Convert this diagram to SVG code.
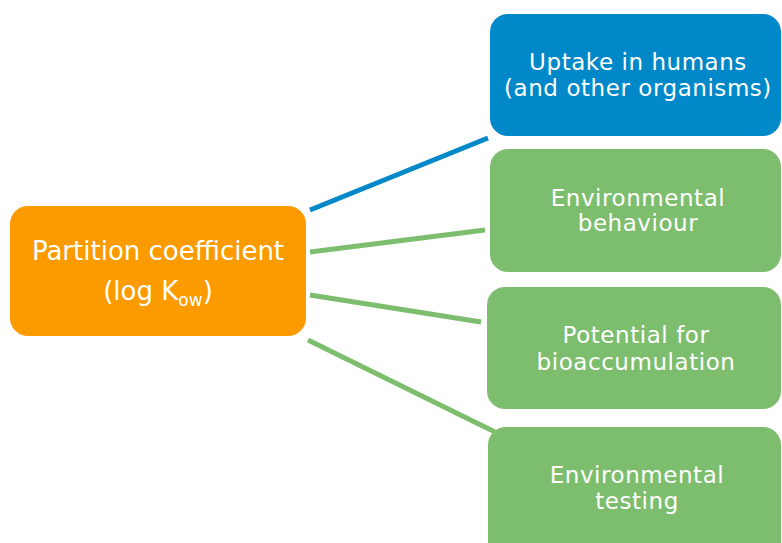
<svg xmlns="http://www.w3.org/2000/svg" width="782" height="543" viewBox="0 0 782 543">
<style>
.t{font-family:"DejaVu Sans","Verdana",sans-serif;fill:#ffffff;text-anchor:middle}
.s{font-size:23px;letter-spacing:0.55px}
.c{stroke-width:5;fill:none}
</style>
<rect width="782" height="543" fill="#ffffff"/>
<g id="connectors">
<line class="c" x1="310" y1="210" x2="488" y2="138" stroke="#0088c8"/>
<line class="c" x1="310" y1="252" x2="485" y2="230" stroke="#7dbe6e"/>
<line class="c" x1="310" y1="295" x2="481" y2="322" stroke="#7dbe6e"/>
<line class="c" x1="308" y1="340" x2="495" y2="432" stroke="#7dbe6e"/>
</g>
<g id="partition">
<rect x="10" y="206" width="296" height="130" rx="18" fill="#fb9b00"/>
<text class="t" x="158" y="260" font-size="26">Partition coefficient</text>
<text class="t" x="158" y="300" font-size="26">(log K<tspan font-size="17" dy="6">ow</tspan><tspan dy="-6">)</tspan></text>
</g>
<g id="uptake">
<rect x="490" y="14" width="291" height="122" rx="18" fill="#0088c8"/>
<text class="t s" x="638" y="70">Uptake in humans</text>
<text class="t s" x="638" y="96">(and other organisms)</text>
</g>
<g id="behaviour">
<rect x="490" y="149" width="291" height="123" rx="18" fill="#7dbe6e"/>
<text class="t s" x="638" y="206">Environmental</text>
<text class="t s" x="638" y="231">behaviour</text>
</g>
<g id="bioaccumulation">
<rect x="487" y="287" width="294" height="122" rx="18" fill="#7dbe6e"/>
<text class="t s" x="636" y="343">Potential for</text>
<text class="t s" x="636" y="370">bioaccumulation</text>
</g>
<g id="testing">
<rect x="488" y="427" width="293" height="140" rx="18" fill="#7dbe6e"/>
<text class="t s" x="637" y="483">Environmental</text>
<text class="t s" x="637" y="509">testing</text>
</g>
</svg>
